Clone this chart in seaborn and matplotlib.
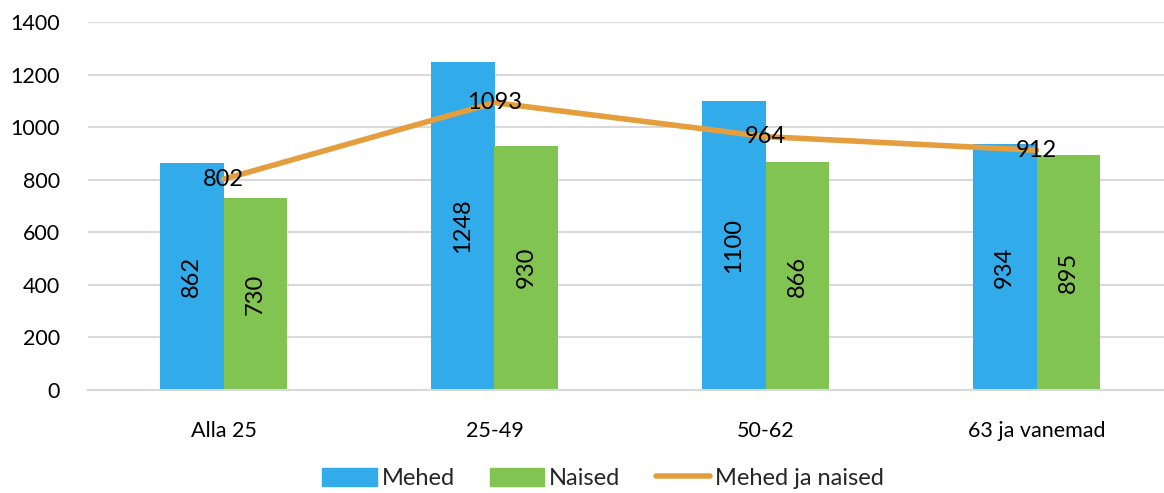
import numpy as np
import pandas as pd
import seaborn as sns
import matplotlib.pyplot as plt
from matplotlib.patches import Patch
from matplotlib.lines import Line2D

# chart data
categories = ['Alla 25', '25-49', '50-62', '63 ja vanemad']
mehed = [862, 1248, 1100, 934]
naised = [730, 930, 866, 895]
koik = [802, 1093, 964, 912]

blue = '#32ABEA'
green = '#82C451'
orange = '#E49E3E'
grid = '#D9D9D9'

sns.set_theme(style='white')
plt.rcParams['font.family'] = ['Lato', 'DejaVu Sans']

df = pd.DataFrame({
    'group': categories * 2,
    'value': mehed + naised,
    'sex': ['Mehed'] * 4 + ['Naised'] * 4,
})

fig = plt.figure(figsize=(11.64, 4.93), dpi=100)
ax = fig.add_axes([88 / 1164, 1 - 390 / 493, 1084 / 1164, 368 / 493])

sns.barplot(data=df, x='group', y='value', hue='sex', palette=[blue, green],
            width=0.472, saturation=1, linewidth=0, ax=ax, legend=False, zorder=2)

# value labels inside bars, rotated
for cont in ax.containers:
    ax.bar_label(cont, label_type='center', rotation=90, fontsize=17, color='black')

sns.lineplot(x=np.arange(len(categories)), y=koik, color=orange, linewidth=4,
             ax=ax, zorder=3)
for i, v in enumerate(koik):
    ax.text(i, v, str(v), ha='center', va='center', fontsize=17, color='black', zorder=4)

ax.set_xlim(-0.5, 3.5)
ax.set_ylim(0, 1400)
ax.set_yticks(range(0, 1401, 200))
ax.yaxis.grid(True, color=grid, linewidth=1.5)
ax.set_axisbelow(True)
for s in ['top', 'right', 'left']:
    ax.spines[s].set_visible(False)
ax.spines['bottom'].set_color(grid)
ax.spines['bottom'].set_linewidth(1.5)
ax.set_xlabel('')
ax.set_ylabel('')
ax.tick_params(axis='both', length=0, labelsize=15.5, colors='black')
ax.tick_params(axis='y', pad=20)
ax.tick_params(axis='x', pad=22)

handles = [Patch(color=blue), Patch(color=green), Line2D([0], [0], color=orange, lw=4)]
fig.legend(handles, ['Mehed', 'Naised', 'Mehed ja naised'], loc='lower center',
           ncol=3, frameon=False, fontsize=17, bbox_to_anchor=(0.518, -0.035),
           handlelength=2.3, handleheight=0.8, handletextpad=0.2, columnspacing=1.5)

fig.savefig('out.png', dpi=100)
